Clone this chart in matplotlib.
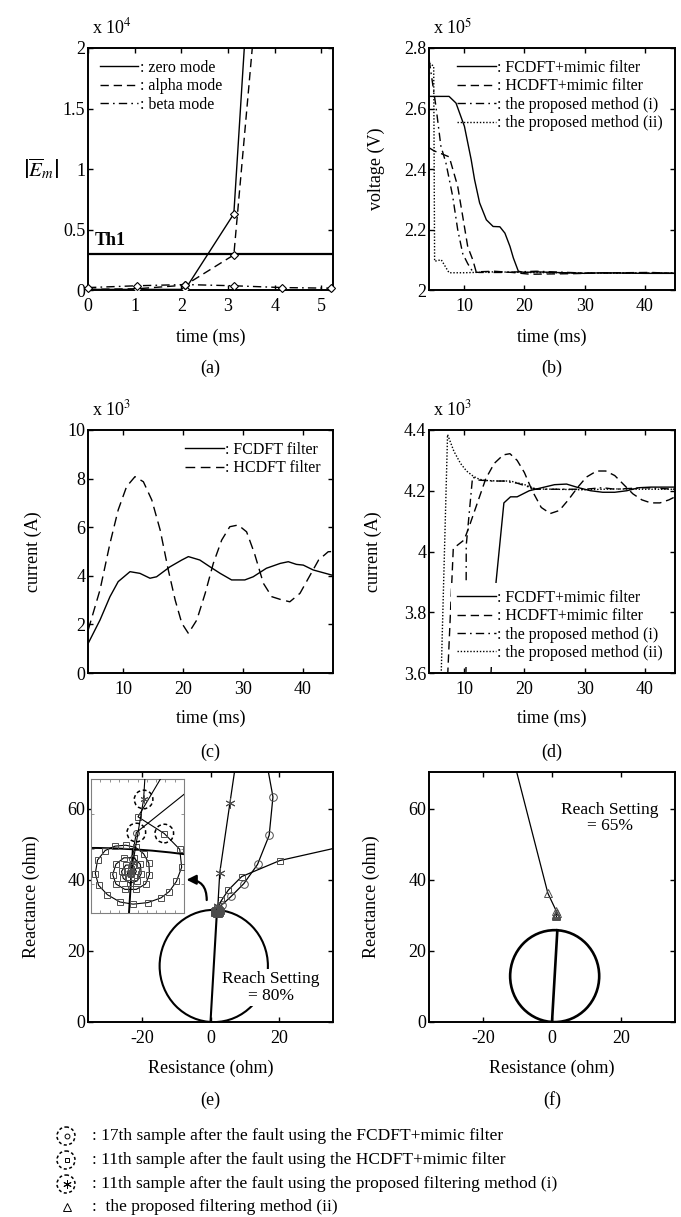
import matplotlib

matplotlib.use("Agg")
import matplotlib.pyplot as plt
from matplotlib import patches
from matplotlib.ticker import MultipleLocator

plt.rcParams["font.family"] = ["Liberation Serif", "DejaVu Serif"]
plt.rcParams["mathtext.fontset"] = "stix"
plt.rcParams["axes.unicode_minus"] = False
plt.rcParams["axes.linewidth"] = 1.4
plt.rcParams["xtick.labelsize"] = 13
plt.rcParams["ytick.labelsize"] = 13
plt.rcParams["axes.labelsize"] = 13

W, H = 681, 1217

# ---- (a) mode energy ----
a_time = [0, 1.042, 2.083, 3.125, 4.167, 5.208]
a_zero = [0.005, 0.005, 0.005, 0.63, 7.0, 9.0]
a_alpha = [0.005, 0.01, 0.04, 0.29, 4.8, 8.0]
a_beta = [0.02, 0.035, 0.045, 0.035, 0.02, 0.015]
a_th1 = 0.3

# ---- (b) voltage (x 1e5) ----
b_fc_t = [4.2, 7.5, 8.65, 10.05, 11.17, 11.73, 12.57, 13.69, 14.81, 15.93, 16.77, 17.61,
          18.17, 19.0, 20, 22, 25, 27, 30, 33, 36, 40, 45]
b_fc_v = [2.64, 2.64, 2.618, 2.541, 2.431, 2.365, 2.288, 2.232, 2.21, 2.209, 2.188, 2.144,
          2.106, 2.062, 2.058, 2.06, 2.058, 2.057, 2.055, 2.057, 2.056, 2.055, 2.055]
b_hc_t = [4.2, 5.0, 6.3, 7.53, 8.93, 9.77, 10.6, 11.45, 12.0, 15, 18, 21, 24, 28, 32, 36, 41, 45]
b_hc_v = [2.47, 2.46, 2.45, 2.44, 2.343, 2.243, 2.143, 2.099, 2.06, 2.062, 2.058, 2.052,
          2.053, 2.054, 2.056, 2.057, 2.058, 2.055]
b_pm1_t = [4.2, 5.3, 6.14, 6.98, 8.1, 8.93, 9.77, 10.6, 11.45, 12.5, 16, 22, 30, 40, 45]
b_pm1_v = [2.76, 2.61, 2.476, 2.42, 2.31, 2.20, 2.12, 2.087, 2.06, 2.058, 2.058, 2.062,
           2.056, 2.056, 2.056]
b_pm2_t = [4.2, 4.95, 5.1, 6.2, 7.5, 10, 15, 20, 30, 45]
b_pm2_v = [2.75, 2.74, 2.095, 2.1, 2.057, 2.057, 2.06, 2.058, 2.056, 2.056]

# ---- (c) current (x 1e3) ----
c_fc_t = [4.2, 6.17, 7.83, 9.2, 11.17, 12.83, 14.5, 15.6, 17.83, 19.8, 20.9, 22.8, 24.5,
          26.2, 28.1, 30.3, 31.7, 33.9, 36.2, 37.55, 38.9, 40.05, 41.7, 44.8, 45]
c_fc_i = [1.22, 2.18, 3.14, 3.76, 4.17, 4.10, 3.9, 3.96, 4.37, 4.65, 4.79, 4.65, 4.37,
          4.1, 3.83, 3.83, 3.96, 4.31, 4.51, 4.58, 4.47, 4.44, 4.24, 4.03, 4.02]
c_hc_t = [4.2, 6.17, 7.83, 9.2, 10.6, 12.0, 13.4, 14.8, 16.2, 17.55, 18.7, 19.8, 20.9,
          22.3, 23.7, 25.05, 26.45, 27.8, 29.2, 30.6, 31.9, 33.4, 34.8, 36.2, 37.8, 39.5,
          40.9, 42.6, 44.2, 45]
c_hc_i = [1.77, 3.42, 5.33, 6.71, 7.67, 8.08, 7.87, 7.12, 5.88, 4.24, 3.0, 2.05, 1.63,
          2.18, 3.28, 4.51, 5.47, 6.02, 6.09, 5.81, 4.93, 3.69, 3.14, 3.03, 2.93, 3.28,
          3.90, 4.65, 4.99, 5.0]

# ---- (d) current with mimic filter (x 1e3) ----
d_fc_t = [13.9, 15.3, 16.6, 17.7, 18.8, 20.8, 22.9, 25.0, 27.0, 29.0, 31.0, 33.0, 35.0,
          37.0, 39.0, 41.0, 45.0]
d_fc_i = [3.4, 3.9, 4.16, 4.18, 4.18, 4.2, 4.21, 4.22, 4.222, 4.21, 4.2, 4.195, 4.195,
          4.2, 4.21, 4.212, 4.212]
d_hc_t = [6.4, 8.2, 10.0, 10.8, 12.2, 13.6, 15.0, 16.5, 17.6, 18.8, 20.0, 21.3, 22.8,
          24.3, 25.8, 27.3, 28.8, 30.3, 32.0, 33.5, 35.0, 36.5, 38.0, 39.5, 41.0, 42.5,
          44.0, 45.0]
d_hc_i = [3.2, 4.01, 4.038, 4.08, 4.16, 4.24, 4.29, 4.318, 4.322, 4.30, 4.26, 4.2, 4.145,
          4.125, 4.135, 4.17, 4.21, 4.245, 4.265, 4.265, 4.25, 4.22, 4.19, 4.17, 4.16,
          4.16, 4.17, 4.18]
d_pm1_t = [10.25, 10.35, 11.4, 12.5, 14.6, 16.7, 17.7, 18.8, 20.8, 21.9, 25, 30, 33, 35,
           40, 45]
d_pm1_i = [3.0, 4.02, 4.245, 4.235, 4.232, 4.232, 4.228, 4.225, 4.212, 4.205, 4.205,
           4.205, 4.21, 4.205, 4.21, 4.205]
d_pm2_t = [6.0, 7.25, 8.3, 9.4, 10.4, 11.5, 12.5, 13.5, 15.6, 17.7, 18.8, 19.8, 20.8,
           21.9, 25, 30, 35, 40, 45]
d_pm2_i = [3.45, 4.385, 4.33, 4.29, 4.265, 4.248, 4.238, 4.234, 4.232, 4.232, 4.226,
           4.222, 4.214, 4.206, 4.205, 4.203, 4.206, 4.205, 4.205]

# ---- (e), (f) impedance trajectories (ohm) ----
reach_80 = (1.9, 31.5)
reach_65 = (1.55, 25.8)

e_fc_r = [15.6, 18.2, 17.1, 13.7, 9.7, 6.0, 3.4, 1.975, 1.88, 1.85]
e_fc_x = [77.0, 63.3, 52.5, 44.3, 38.9, 35.3, 33.0, 31.86, 31.3, 31.0]

e_hc_r = [46.0, 20.2, 9.1, 5.2, 3.2, 2.011, 2.576, 2.908, 2.950, 2.837, 2.682, 2.505,
          2.223, 1.905, 1.622, 1.353, 1.163, 1.092, 1.141, 1.304, 1.516, 1.749, 1.961,
          2.131, 2.244, 2.258, 2.173, 1.975, 1.728, 1.537, 1.466, 1.537, 1.707, 1.919,
          2.060, 2.081, 1.996, 1.834, 1.693, 1.657, 1.749, 1.905, 1.975, 1.919, 1.799,
          1.777, 1.869, 1.869, 1.850]
e_hc_x = [51.0, 45.4, 40.9, 37.1, 34.2, 32.197, 31.838, 31.499, 31.113, 30.808, 30.591,
          30.455, 30.354, 30.320, 30.367, 30.523, 30.726, 30.977, 31.268, 31.472, 31.567,
          31.587, 31.539, 31.404, 31.201, 30.957, 30.753, 30.638, 30.638, 30.753, 30.957,
          31.180, 31.316, 31.316, 31.180, 30.977, 30.821, 30.774, 30.875, 31.024, 31.160,
          31.160, 31.024, 30.909, 30.909, 31.024, 31.065, 30.977, 31.000]

e_pm1_r = [7.7, 5.65, 2.7, 2.131, 1.9, 1.86, 1.84]
e_pm1_x = [75.0, 61.5, 42.0, 32.57, 31.2, 31.02, 30.98]

# samples marked with dashed circles (index into the arrays above)
fc_mark, hc_mark, pm1_mark = 7, 6, 3

f_pm2_r = [-12.3, -1.2, 1.2, 1.4, 1.1, 1.3, 1.25, 1.2]
f_pm2_x = [78.0, 36.2, 31.3, 30.6, 30.1, 29.7, 30.3, 30.0]

key_labels = [
    ": 17th sample after the fault using the FCDFT+mimic filter",
    ": 11th sample after the fault using the HCDFT+mimic filter",
    ": 11th sample after the fault using the proposed filtering method (i)",
    ":  the proposed filtering method (ii)",
]

DASH = (6, 3.5)
DASHDOT = (6, 3, 1.2, 3)
DOT = (1, 1.3)

fig = plt.figure(figsize=(W / 100, H / 100), dpi=100)


def px_axes(left, top, right, bottom):
    return fig.add_axes([left / W, 1 - bottom / H, (right - left) / W, (bottom - top) / H])


def style(ax, xlabel, ylabel, ylab_x, xlab_y):
    ax.tick_params(direction="in", top=True, right=True, length=3.5, width=1.0)
    ax.tick_params(axis="y", pad=2)
    ax.tick_params(axis="x", pad=6)
    ax.set_xlabel(xlabel)
    ax.xaxis.set_label_coords(0.5, xlab_y)
    ax.xaxis.label.set_verticalalignment("center")
    if ylabel:
        ax.set_ylabel(ylabel)
        ax.yaxis.set_label_coords(ylab_x, 0.5)
        ax.yaxis.label.set_verticalalignment("center")


def scale_note(ax, exp):
    ax.text(0.015, 1.06, "x 10$^{%d}$" % exp, transform=ax.transAxes, fontsize=13,
            va="baseline", ha="left")


def add_legend(ax, loc, opaque=False):
    leg = ax.legend(loc=loc, fontsize=11.5, handlelength=2.4, handletextpad=0.1,
                    labelspacing=0.15, borderaxespad=0.35, frameon=opaque, fancybox=False)
    if opaque:
        leg.get_frame().set_edgecolor("none")
        leg.get_frame().set_facecolor("white")
        leg.get_frame().set_alpha(1.0)
        leg.set_zorder(5)
    return leg


# ---------------- (a) ----------------
ax = px_axes(88, 48, 333, 290)
ax.plot(a_time, a_zero, color="k", lw=1.0, label=": zero mode")
ax.plot(a_time, a_alpha, color="k", lw=1.0, dashes=DASH, label=": alpha mode")
ax.plot(a_time, a_beta, color="k", lw=1.0, dashes=DASHDOT, label=": beta mode")
for series, clip in ((a_zero, True), (a_alpha, True), (a_beta, False)):
    ax.plot(a_time, series, ls="none", marker="D", ms=4.5, mfc="white", mec="k",
            mew=0.8, clip_on=clip, zorder=4)
ax.axhline(a_th1, color="k", lw=1.6)
ax.text(0.15, a_th1 + 0.04, "Th1", fontsize=13, fontweight="bold", va="bottom")
ax.set_xlim(0, 5.25)
ax.set_ylim(0, 2)
ax.set_xticks([0, 1, 2, 3, 4, 5])
ax.set_yticks([0, 0.5, 1, 1.5, 2])
ax.set_yticklabels(["0", "0.5", "1", "1.5", "2"])
style(ax, "time (ms)", r"$\left|\overline{E}_m\right|$", -0.19, -0.194)
ax.yaxis.label.set_rotation(0)
ax.yaxis.label.set_horizontalalignment("center")
ax.yaxis.label.set_fontsize(15)
scale_note(ax, 4)
add_legend(ax, "upper left")

# ---------------- (b) ----------------
ax = px_axes(429, 48, 675, 290)
ax.plot(b_fc_t, b_fc_v, color="k", lw=1.0, label=": FCDFT+mimic filter")
ax.plot(b_hc_t, b_hc_v, color="k", lw=1.0, dashes=DASH, label=": HCDFT+mimic filter")
ax.plot(b_pm1_t, b_pm1_v, color="k", lw=1.0, dashes=DASHDOT, label=": the proposed method (i)")
ax.plot(b_pm2_t, b_pm2_v, color="k", lw=1.0, dashes=DOT, label=": the proposed method (ii)")
ax.set_xlim(4.17, 45)
ax.set_ylim(2.0, 2.8)
ax.set_xticks([10, 20, 30, 40])
ax.set_yticks([2.0, 2.2, 2.4, 2.6, 2.8])
ax.set_yticklabels(["2", "2.2", "2.4", "2.6", "2.8"])
style(ax, "time (ms)", "voltage (V)", -0.213, -0.194)
scale_note(ax, 5)
add_legend(ax, "upper right")

# ---------------- (c) ----------------
ax = px_axes(88, 430, 333, 673)
ax.plot(c_fc_t, c_fc_i, color="k", lw=1.0, label=": FCDFT filter")
ax.plot(c_hc_t, c_hc_i, color="k", lw=1.0, dashes=(7, 4), label=": HCDFT filter")
ax.set_xlim(4.17, 45)
ax.set_ylim(0, 10)
ax.set_xticks([10, 20, 30, 40])
ax.set_yticks([0, 2, 4, 6, 8, 10])
style(ax, "time (ms)", "current (A)", -0.223, -0.185)
scale_note(ax, 3)
add_legend(ax, "upper right")

# ---------------- (d) ----------------
ax = px_axes(429, 430, 675, 673)
ax.plot(d_fc_t, d_fc_i, color="k", lw=1.0, label=": FCDFT+mimic filter")
ax.plot(d_hc_t, d_hc_i, color="k", lw=1.0, dashes=DASH, label=": HCDFT+mimic filter")
ax.plot(d_pm1_t, d_pm1_i, color="k", lw=1.0, dashes=DASHDOT, label=": the proposed method (i)")
ax.plot(d_pm2_t, d_pm2_i, color="k", lw=1.0, dashes=DOT, label=": the proposed method (ii)")
ax.set_xlim(4.17, 45)
ax.set_ylim(3.6, 4.4)
ax.set_xticks([10, 20, 30, 40])
ax.set_yticks([3.6, 3.8, 4.0, 4.2, 4.4])
ax.set_yticklabels(["3.6", "3.8", "4", "4.2", "4.4"])
style(ax, "time (ms)", "current (A)", -0.226, -0.185)
scale_note(ax, 3)
add_legend(ax, "lower right", opaque=True)


# ---------------- (e) ----------------
def mho(ax, reach, lw):
    cx, cy = reach[0] / 2, reach[1] / 2
    r = (reach[0] ** 2 + reach[1] ** 2) ** 0.5 / 2
    ax.add_patch(patches.Circle((cx, cy), r, fill=False, ec="k", lw=lw, zorder=2))
    ax.plot([0, reach[0]], [0, reach[1]], color="k", lw=lw, zorder=2)


def trajectories(ax, ms, lw):
    mk = dict(mfc="none", mec="0.3", mew=0.7, color="k", lw=lw, zorder=3)
    ax.plot(e_fc_r, e_fc_x, marker="o", ms=ms, **mk)
    ax.plot(e_hc_r, e_hc_x, marker="s", ms=ms * 0.9, **mk)
    ax.plot(e_pm1_r, e_pm1_x, marker=(6, 2, 0), ms=ms * 1.3, **mk)


ax = px_axes(88, 772, 333, 1022)
mho(ax, reach_80, 1.5)
trajectories(ax, 5.5, 0.9)
ax.text(17.6, 9.7, "Reach Setting\n= 80%", ha="center", va="center", fontsize=12.5,
        linespacing=1.05, zorder=5,
        bbox=dict(boxstyle="square,pad=0.1", fc="white", ec="none"))
ax.annotate("", xy=(-7.0, 40.0), xytext=(-1.1, 34.3),
            arrowprops=dict(arrowstyle="-|>", connectionstyle="arc3,rad=0.5",
                            color="k", lw=1.6, mutation_scale=14, shrinkA=0, shrinkB=0))
ax.set_xlim(-35.7, 35.7)
ax.set_ylim(0, 70.3)
ax.set_xticks([-20, 0, 20])
ax.set_yticks([0, 20, 40, 60])
style(ax, "Resistance (ohm)", "Reactance (ohm)", -0.23, -0.184)

ins = fig.add_axes([91 / W, 1 - 913 / H, 93 / W, 134 / H])
mho(ins, reach_80, 1.4)
trajectories(ins, 4.3, 0.8)
for r, x in ((e_fc_r[fc_mark], e_fc_x[fc_mark]),
             (e_hc_r[hc_mark], e_hc_x[hc_mark]),
             (e_pm1_r[pm1_mark], e_pm1_x[pm1_mark])):
    ins.add_patch(patches.Circle((r, x), 0.2, fill=False, ec="k", lw=1.1,
                                 ls=(0, (2.5, 1.8)), zorder=4))
ins.set_xlim(1.0, 3.0)
ins.set_ylim(30.13, 33.01)
ins.xaxis.set_major_locator(MultipleLocator(0.2))
ins.yaxis.set_major_locator(MultipleLocator(0.75))
ins.tick_params(direction="in", top=True, right=True, length=2, width=0.6, color="0.5",
                labelbottom=False, labelleft=False)
for s in ins.spines.values():
    s.set_linewidth(0.8)
    s.set_edgecolor("0.5")

# ---------------- (f) ----------------
ax = px_axes(429, 772, 675, 1022)
mho(ax, reach_65, 1.9)
ax.plot(f_pm2_r, f_pm2_x, color="k", lw=0.9, marker="^", ms=6, mfc="none", mec="0.3",
        mew=0.7, zorder=3)
ax.text(16.7, 57.4, "Reach Setting\n= 65%", ha="center", va="center", fontsize=12.5,
        linespacing=1.05)
ax.set_xlim(-35.7, 35.7)
ax.set_ylim(0, 70.3)
ax.set_xticks([-20, 0, 20])
ax.set_yticks([0, 20, 40, 60])
style(ax, "Resistance (ohm)", "Reactance (ohm)", -0.233, -0.184)

# ---------------- captions ----------------
for lab, xc, yc in (("(a)", 210, 368), ("(b)", 552, 368), ("(c)", 210, 752),
                    ("(d)", 552, 752), ("(e)", 210, 1100), ("(f)", 552, 1100)):
    fig.text(xc / W, 1 - yc / H, lab, ha="center", va="center", fontsize=13)

# ---------------- bottom key ----------------
key = fig.add_axes([0, 0, 1, 120 / H])
key.set_xlim(0, W)
key.set_ylim(H, H - 120)
key.axis("off")
key_rows = [1136, 1160, 1184, 1207]
key_marks = ["o", "s", (6, 2, 0), "^"]
key_sizes = [3.5, 3.5, 6, 5.5]
for i, (y, lab) in enumerate(zip(key_rows, key_labels)):
    if i < 3:
        key.add_patch(patches.Circle((66, y), 9, fill=False, ec="k", lw=1.1,
                                     ls=(0, (2, 1.6))))
    key.plot([67], [y], marker=key_marks[i], ms=key_sizes[i], mfc="none", mec="k",
             mew=0.7, ls="none")
    key.text(92, y, lab, ha="left", va="center", fontsize=12.5)

fig.savefig("out.png", dpi=100)
